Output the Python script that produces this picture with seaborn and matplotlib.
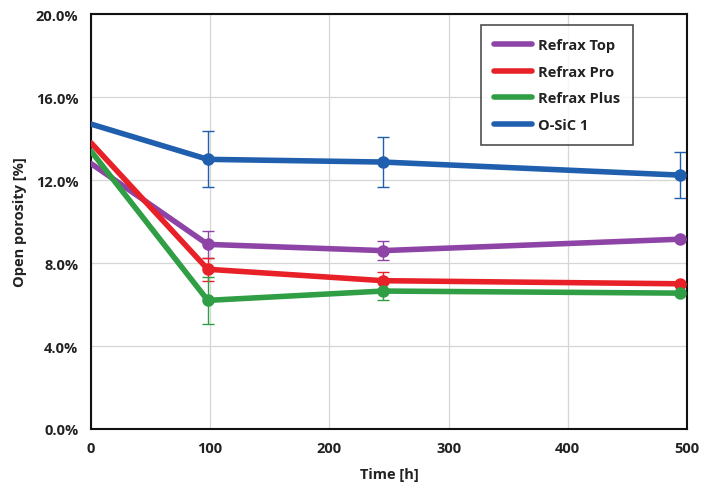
import matplotlib
matplotlib.use("Agg")
import matplotlib.pyplot as plt
import seaborn as sns
import pandas as pd
import numpy as np
from matplotlib.ticker import FuncFormatter, MultipleLocator
from matplotlib.lines import Line2D

# Data
time_h = [0, 98, 245, 494]
series_names = ["Refrax Top", "Refrax Pro", "Refrax Plus", "O-SiC 1"]
refrax_top = [12.8, 8.9, 8.6, 9.15]
refrax_pro = [13.8, 7.7, 7.15, 7.0]
refrax_plus = [13.4, 6.2, 6.65, 6.55]
osic_1 = [14.7, 13.0, 12.87, 12.24]
err_top = [0.0, 0.65, 0.45, 0.0]
err_pro = [0.0, 0.55, 0.4, 0.0]
err_plus = [0.0, 1.15, 0.45, 0.0]
err_osic = [0.0, 1.35, 1.2, 1.1]
colors = ["#8e44a6", "#e82128", "#2f9e44", "#1f5fae"]

values = [refrax_top, refrax_pro, refrax_plus, osic_1]
errors = [err_top, err_pro, err_plus, err_osic]

rows = []
for name, vals in zip(series_names, values):
    for t, v in zip(time_h, vals):
        rows.append({"Time": t, "Porosity": v, "Series": name})
df = pd.DataFrame(rows)

sns.set_theme(style="white")
plt.rcParams["font.family"] = ["Open Sans", "DejaVu Sans"]

fig = plt.figure(figsize=(7.05, 4.89), dpi=100)
ax = fig.add_axes([0.129, 0.1207, 0.8455, 0.8483])

# error bars (drawn below lines)
for name, vals, errs, c in zip(series_names, values, errors, colors):
    t_e = [t for t, e in zip(time_h, errs) if e > 0]
    v_e = [v for v, e in zip(vals, errs) if e > 0]
    e_e = [e for e in errs if e > 0]
    ax.errorbar(t_e, v_e, yerr=e_e, fmt="none", ecolor=c, elinewidth=1.0,
                capsize=4, capthick=1.0, zorder=2)

sns.lineplot(data=df, x="Time", y="Porosity", hue="Series", hue_order=series_names,
             palette=colors, marker="o", markersize=9, markeredgewidth=0,
             markevery=[1, 2, 3], linewidth=4, ax=ax, zorder=3, legend=False)

ax.set_xlim(0, 500)
ax.set_ylim(0, 20)
ax.xaxis.set_major_locator(MultipleLocator(100))
ax.yaxis.set_major_locator(MultipleLocator(4))
ax.yaxis.set_major_formatter(FuncFormatter(lambda v, p: f"{v:.1f}%"))
ax.grid(True, color="#d6d6d6", linewidth=0.9)
ax.set_axisbelow(True)
for s in ax.spines.values():
    s.set_color("#111111")
    s.set_linewidth(1.5)
ax.tick_params(axis="both", which="both", direction="inout", length=6, width=1.2,
               colors="#111111", labelsize=10.5, pad=6)
for lab in ax.get_xticklabels() + ax.get_yticklabels():
    lab.set_fontweight("bold")
    lab.set_color("#222222")
ax.set_xlabel("Time [h]", fontsize=10.5, fontweight="bold", color="#222222", labelpad=8)
ax.set_ylabel("Open porosity [%]", fontsize=10.5, fontweight="bold", color="#222222", labelpad=6)

handles = [Line2D([0], [0], color=c, linewidth=4) for c in colors]
leg = ax.legend(handles, series_names, loc="upper right", bbox_to_anchor=(0.909, 0.973),
                borderaxespad=0, frameon=True, fancybox=False, edgecolor="#222222",
                fontsize=10.5, handlelength=2.6, handletextpad=0.4, labelspacing=0.85,
                borderpad=0.9)
leg.get_frame().set_linewidth(1.2)
for t in leg.get_texts():
    t.set_fontweight("bold")
    t.set_color("#222222")

fig.savefig("out.png", dpi=100)
